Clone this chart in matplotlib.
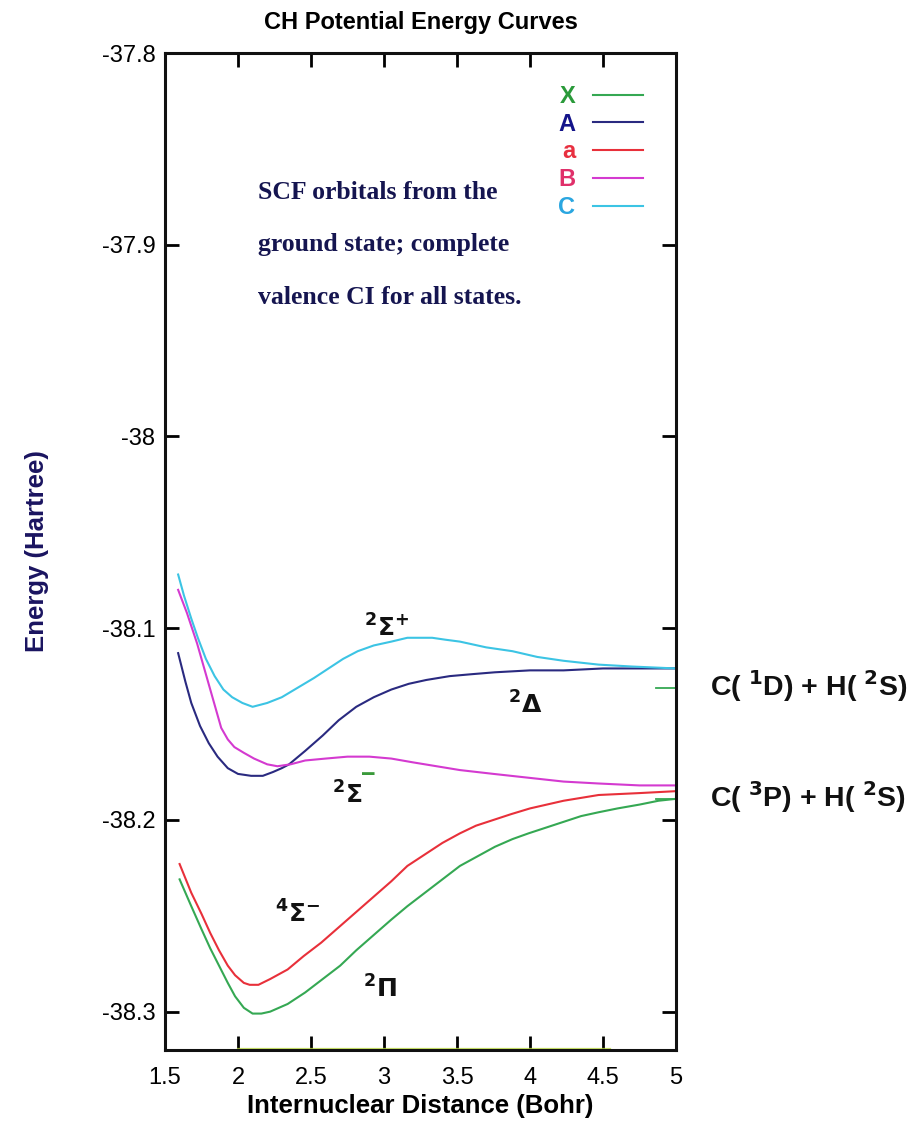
import matplotlib
matplotlib.use("Agg")
import matplotlib.pyplot as plt

plt.rcParams['font.family'] = ['Liberation Sans', 'DejaVu Sans']

# ---- data ----
x_X = [1.60, 1.68, 1.75, 1.81, 1.87, 1.93, 1.98, 2.04, 2.10, 2.16, 2.22, 2.34, 2.46, 2.58, 2.70, 2.81, 2.93, 3.05, 3.16, 3.28, 3.40, 3.52, 3.64, 3.76, 3.88, 3.99, 4.11, 4.23, 4.35, 4.47, 4.60, 4.75, 4.88, 5.00]
y_X = [-38.231, -38.245, -38.257, -38.267, -38.276, -38.285, -38.292, -38.298, -38.301, -38.301, -38.300, -38.296, -38.290, -38.283, -38.276, -38.268, -38.260, -38.252, -38.245, -38.238, -38.231, -38.224, -38.219, -38.214, -38.210, -38.207, -38.204, -38.201, -38.198, -38.196, -38.194, -38.192, -38.190, -38.189]

x_A = [1.59, 1.64, 1.68, 1.74, 1.80, 1.86, 1.93, 2.00, 2.09, 2.17, 2.24, 2.30, 2.35, 2.46, 2.58, 2.69, 2.81, 2.93, 3.05, 3.17, 3.29, 3.45, 3.60, 3.76, 4.00, 4.23, 4.50, 4.75, 5.00]
y_A = [-38.113, -38.128, -38.139, -38.151, -38.160, -38.167, -38.173, -38.176, -38.177, -38.177, -38.175, -38.173, -38.171, -38.164, -38.156, -38.148, -38.141, -38.136, -38.132, -38.129, -38.127, -38.125, -38.124, -38.123, -38.122, -38.122, -38.121, -38.121, -38.121]

x_a = [1.60, 1.68, 1.75, 1.81, 1.87, 1.93, 1.98, 2.04, 2.08, 2.14, 2.22, 2.34, 2.45, 2.57, 2.69, 2.81, 2.93, 3.05, 3.16, 3.28, 3.40, 3.52, 3.63, 3.75, 3.87, 4.00, 4.23, 4.47, 4.75, 5.00]
y_a = [-38.223, -38.238, -38.249, -38.259, -38.268, -38.276, -38.281, -38.285, -38.286, -38.286, -38.283, -38.278, -38.271, -38.264, -38.256, -38.248, -38.240, -38.232, -38.224, -38.218, -38.212, -38.207, -38.203, -38.200, -38.197, -38.194, -38.190, -38.187, -38.186, -38.185]

x_B = [1.59, 1.65, 1.72, 1.78, 1.84, 1.885, 1.93, 1.975, 2.04, 2.11, 2.20, 2.27, 2.36, 2.46, 2.60, 2.75, 2.90, 3.05, 3.20, 3.36, 3.52, 3.75, 3.99, 4.23, 4.47, 4.75, 5.00]
y_B = [-38.080, -38.092, -38.108, -38.124, -38.140, -38.152, -38.158, -38.162, -38.165, -38.168, -38.171, -38.172, -38.171, -38.169, -38.168, -38.167, -38.167, -38.168, -38.170, -38.172, -38.174, -38.176, -38.178, -38.180, -38.181, -38.182, -38.182]

x_C = [1.59, 1.63, 1.68, 1.725, 1.78, 1.84, 1.90, 1.96, 2.03, 2.10, 2.20, 2.30, 2.41, 2.52, 2.62, 2.72, 2.82, 2.93, 3.05, 3.16, 3.24, 3.33, 3.42, 3.52, 3.70, 3.88, 4.05, 4.23, 4.47, 4.70, 5.00]
y_C = [-38.072, -38.083, -38.095, -38.105, -38.116, -38.125, -38.132, -38.136, -38.139, -38.141, -38.139, -38.136, -38.131, -38.126, -38.121, -38.116, -38.112, -38.109, -38.107, -38.105, -38.105, -38.105, -38.106, -38.107, -38.110, -38.112, -38.115, -38.117, -38.119, -38.120, -38.121]

asym_x = [4.86, 5.0]
asym_1D = [-38.131, -38.131]
asym_3P = [-38.189, -38.189]
base_x = [2.0, 4.55]
base_y = [-38.3195, -38.3195]

state_names = ['X', 'A', 'a', 'B', 'C']
line_colors = ['#35a853', '#2a2a80', '#e8303a', '#d43ad0', '#3cc4e4']
label_colors = ['#2a9a3a', '#14148a', '#e83040', '#e0306a', '#2aa6e0']

xticks = [1.5, 2, 2.5, 3, 3.5, 4, 4.5, 5]
xticklabels = ['1.5', '2', '2.5', '3', '3.5', '4', '4.5', '5']
yticks = [-37.8, -37.9, -38.0, -38.1, -38.2, -38.3]
yticklabels = ['-37.8', '-37.9', '-38', '-38.1', '-38.2', '-38.3']

# ---- figure ----
W, H = 913, 1122
fig = plt.figure(figsize=(W/100, H/100), dpi=100)
ax = fig.add_axes([165/W, 1-1050/H, (676-165)/W, (1050-53)/H])

series = [(x_X, y_X), (x_A, y_A), (x_a, y_a), (x_B, y_B), (x_C, y_C)]
handles = []
for (xs, ys), c, n in zip(series, line_colors, state_names):
    h, = ax.plot(xs, ys, color=c, lw=1.5, label=n, solid_joinstyle='round')
    handles.append(h)

ax.plot(asym_x, asym_1D, color='#35a853', lw=1.3)
ax.plot(asym_x, asym_3P, color='#35a853', lw=1.3)
ax.plot(base_x, base_y, color='#b8d840', lw=1.6, alpha=0.8)

ax.set_xlim(1.5, 5)
ax.set_ylim(-38.32, -37.8)
ax.set_xticks(xticks)
ax.set_xticklabels(xticklabels)
ax.set_yticks(yticks)
ax.set_yticklabels(yticklabels)
ax.tick_params(direction='in', length=10, width=2, top=True, right=True,
               labelsize=17)
ax.tick_params(axis='x', pad=12)
ax.tick_params(axis='y', pad=7)
for s in ax.spines.values():
    s.set_linewidth(2.2)
    s.set_color('#111111')

ax.set_title('CH Potential Energy Curves', fontsize=17, fontweight='bold', pad=17)
ax.set_xlabel('Internuclear Distance (Bohr)', fontsize=18.5, fontweight='bold', labelpad=4)
ax.set_ylabel('Energy (Hartree)', fontsize=18.5, fontweight='bold', color='#1a1460', labelpad=38)

leg = ax.legend(handles=handles, loc='upper right', bbox_to_anchor=(0.935, 0.968),
                frameon=False, markerfirst=False, handlelength=2.1,
                labelspacing=0.2, handletextpad=0.76, borderpad=0, borderaxespad=0,
                prop={'size': 17, 'weight': 'bold'})
for t, c in zip(leg.get_texts(), label_colors):
    t.set_color(c)

note_lines = ['SCF orbitals from the', 'ground state; complete', 'valence CI for all states.']
note_base = [199, 251, 304]
for line, yb in zip(note_lines, note_base):
    fig.text(258/W, 1-yb/H, line, family='Liberation Serif', fontsize=18.5,
             color='#151550', va='baseline', ha='left', fontweight='bold')

lab_kw = dict(fontsize=18, fontweight='bold', color='#111111', ha='center', va='center')
ax.text(3.02, -38.100, r'$^{\mathbf{2}}\mathbf{\Sigma}^{\mathbf{+}}$', **lab_kw)
ax.text(3.97, -38.140, r'$^{\mathbf{2}}\mathbf{\Delta}$', **lab_kw)
ax.text(2.75, -38.187, r'$^{\mathbf{2}}\mathbf{\Sigma}$', **lab_kw)
ax.text(2.895, -38.1765, '\u2212', fontsize=18, fontweight='bold', color='#3a9a3a',
        ha='center', va='center')
ax.text(2.41, -38.249, r'$^{\mathbf{4}}\mathbf{\Sigma}^{\mathbf{-}}$', **lab_kw)
ax.text(2.97, -38.288, r'$^{\mathbf{2}}\mathbf{\Pi}$', **lab_kw)

fig.text(710/W, 1-686/H, r'C( $^{\mathbf{1}}$D) + H( $^{\mathbf{2}}$S)', fontsize=20.5,
         fontweight='bold', ha='left', va='center', color='#111111')
fig.text(710/W, 1-797/H, r'C( $^{\mathbf{3}}$P) + H( $^{\mathbf{2}}$S)', fontsize=20.5,
         fontweight='bold', ha='left', va='center', color='#111111')

fig.savefig('out.png', dpi=100)
